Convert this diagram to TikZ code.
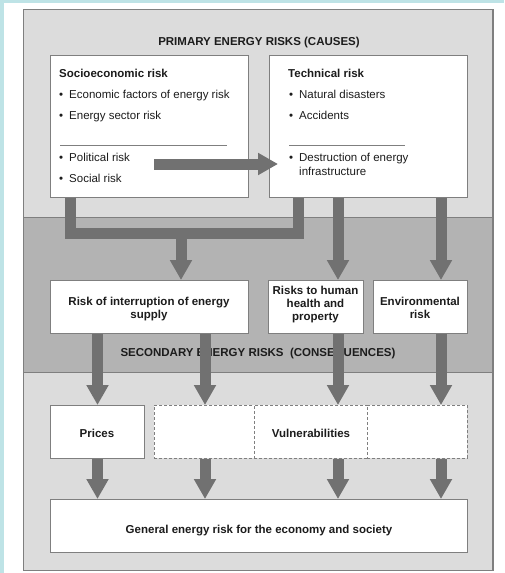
\documentclass[tikz,border=0pt]{standalone}
\usepackage{fontspec}
\setmainfont{Liberation Sans}
\usetikzlibrary{arrows.meta}
\definecolor{cyanbg}{HTML}{BEE3E6}
\definecolor{lightpanel}{HTML}{DCDCDC}
\definecolor{midpanel}{HTML}{B3B3B3}
\definecolor{edgegray}{HTML}{7F7F7F}
\definecolor{arrowgray}{HTML}{717171}
\definecolor{inkc}{HTML}{1C1C1C}
\newcommand\dgfont{\fontsize{11.5}{13}\selectfont}
\begin{document}
\begin{tikzpicture}[x=1pt,y=-1pt,
  every node/.style={text=inkc, font=\dgfont},
  panelline/.style={draw=edgegray, line width=0.8pt},
  box/.style={draw=edgegray, fill=white, line width=0.9pt, anchor=north west, inner sep=0pt},
  dashbox/.style={box, dash pattern=on 3pt off 2pt},
  fat/.style={draw=arrowgray, line width=11pt, -{Triangle[width=21pt,length=20pt]}},
  bar/.style={draw=arrowgray, line width=11pt, line join=miter},
  hd/.style={anchor=base west, inner sep=0pt, font=\dgfont\bfseries},
  item/.style={anchor=base west, inner sep=0pt},
  ctr/.style={anchor=base, inner sep=0pt, font=\dgfont\bfseries},
  ml/.style={align=center, inner sep=0pt, font=\dgfont\bfseries},
  rule/.style={draw=edgegray, line width=0.8pt}
]
\useasboundingbox (0,0) rectangle (504,573);
\fill[white] (0,0) rectangle (504,573);
\fill[cyanbg] (0,0) rectangle (504,2.5);
\fill[cyanbg] (0,0) rectangle (4,573);

% panels
\fill[lightpanel] (23,9) rectangle (493,570);
\fill[midpanel] (23,217) rectangle (493,372);
\draw[panelline] (23,217) -- (493,217);
\draw[panelline] (23,372) -- (493,372);
\draw[panelline, line width=1pt] (23,9) rectangle (493,570);
\draw[edgegray, line width=1.6pt] (493,9) -- (493,570.5) -- (23,570.5);

\node[ctr] (title) at (259,45.7) {PRIMARY ENERGY RISKS (CAUSES)};

% boxes
\node[box, minimum width=198pt, minimum height=142pt] (socio) at (50,55) {};
\node[box, minimum width=198pt, minimum height=142pt] (tech) at (269,55) {};
\node[box, minimum width=198pt, minimum height=53pt] (interr) at (50,280) {};
\node[box, minimum width=95pt, minimum height=53pt] (human) at (268,280) {};
\node[box, minimum width=94pt, minimum height=53pt] (envr) at (373,280) {};
\node[box, minimum width=94pt, minimum height=53pt] (prices) at (50,405) {};
\node[dashbox, minimum width=100pt, minimum height=53pt] (vul1) at (154,405) {};
\node[dashbox, minimum width=113pt, minimum height=53pt] (vul2) at (254,405) {};
\node[dashbox, minimum width=100pt, minimum height=53pt] (vul3) at (367,405) {};
\node[box, minimum width=417pt, minimum height=53pt] (general) at (50,499) {};

% socioeconomic texts
\node[hd] (sochd) at (59,77.5) {Socioeconomic risk};
\node[item] (so1) at (59,98.3) {\makebox[10pt][l]{\textbullet}Economic factors of energy risk};
\node[item] (so2) at (59,119.3) {\makebox[10pt][l]{\textbullet}Energy sector risk};
\draw[rule] (60,145) -- (227,145);
\node[item] (so3) at (59,161.7) {\makebox[10pt][l]{\textbullet}Political risk};
\node[item] (so4) at (59,182.7) {\makebox[10pt][l]{\textbullet}Social risk};

% technical texts
\node[hd] (tehd) at (288,77.5) {Technical risk};
\node[item] (te1) at (289,98.8) {\makebox[10pt][l]{\textbullet}Natural disasters};
\node[item] (te2) at (289,119.3) {\makebox[10pt][l]{\textbullet}Accidents};
\draw[rule] (289,145) -- (405,145);
\node[item] (te3) at (289,161.7) {\makebox[10pt][l]{\textbullet}Destruction of energy};
\node[item] (te4) at (299,175) {infrastructure};

% middle row texts
\node[ml] (interrtxt) at (149,309.2) {Risk of interruption of energy\\supply};
\node[ml] (humantxt) at (315.5,304.3) {Risks to human\\health and\\property};
\node[ml] (envrtxt) at (420,307.5) {Environmental\\risk};

\node[ctr] (sectitle) at (258,356.7) {SECONDARY ENERGY RISKS~~(CONSEQUENCES)};

% bottom texts
\node[ctr] (pricestxt) at (97,437.7) {Prices};
\node[ctr] (vultxt) at (311,437.7) {Vulnerabilities};
\node[ctr] (gentxt) at (259,533.3) {General energy risk for the economy and society};

% connectors
\coordinate (xa) at (97.5,0);
\coordinate (xb) at (205,0);
\coordinate (xc) at (338,0);
\coordinate (xd) at (441,0);
\coordinate (ul) at (70.5,233);
\coordinate (ur) at (298.5,233);
\coordinate (um) at (181,233);
\coordinate (hs) at (154,164);
\coordinate (he) at (278,164);

\draw[bar] (socio.south -| ul) -- (ul) -- (ur) -- (tech.south -| ur);
\draw[fat] (um) -- (interr.north -| um);
\draw[fat] (tech.south -| xc) -- (human.north -| xc);
\draw[fat] (tech.south -| xd) -- (envr.north -| xd);
\draw[fat] (interr.south -| xa) -- (prices.north -| xa);
\draw[fat] (interr.south -| xb) -- (vul1.north -| xb);
\draw[fat] (human.south -| xc) -- (vul2.north -| xc);
\draw[fat] (envr.south -| xd) -- (vul3.north -| xd);
\draw[fat] (prices.south -| xa) -- (general.north -| xa);
\draw[fat] (vul1.south -| xb) -- (general.north -| xb);
\draw[fat] (vul2.south -| xc) -- (general.north -| xc);
\draw[fat] (vul3.south -| xd) -- (general.north -| xd);
\draw[fat] (hs) -- (he);
\end{tikzpicture}
\end{document}
